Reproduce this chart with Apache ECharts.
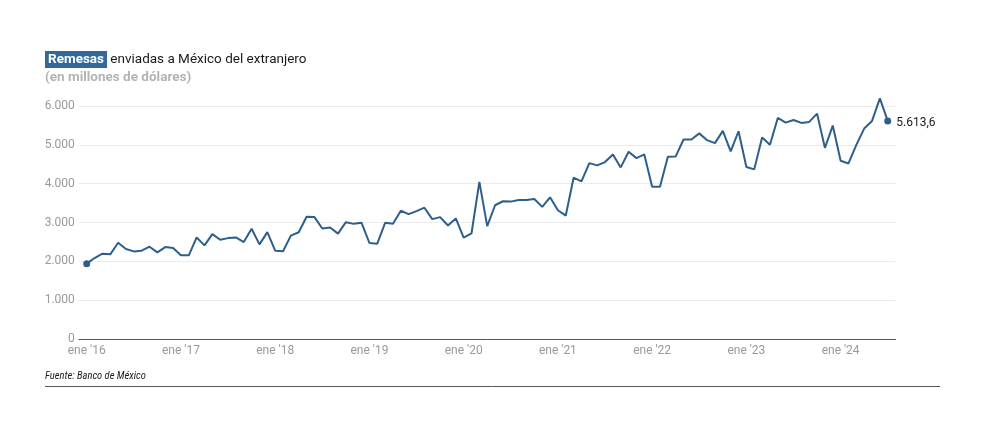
<!DOCTYPE html>
<html>
<head>
<meta charset="utf-8">
<script src="https://cdn.jsdelivr.net/npm/echarts@6/dist/echarts.min.js"></script>
<style>
html,body{margin:0;padding:0;background:#fff;}
#chart{width:1000px;height:427px;}
</style>
</head>
<body>
<div id="chart"></div>
<script>
// Monthly remittances to Mexico, Jan 2016 – Jul 2024 (millions of USD)
const startYear = 2016;
const remesas = [
  1940, 2085, 2197, 2180, 2479, 2316, 2256, 2273, 2376, 2230, 2367, 2342,
  2154, 2154, 2615, 2410, 2700, 2556, 2598, 2615, 2496, 2838, 2436, 2752,
  2273, 2258, 2662, 2749, 3147, 3139, 2844, 2870, 2714, 3009, 2965, 2991,
  2472, 2455, 2991, 2965, 3303, 3216, 3294, 3381, 3087, 3139, 2922, 3104,
  2610, 2723, 4048, 2905, 3444, 3547, 3538, 3581, 3581, 3607, 3402, 3650,
  3316, 3179, 4154, 4060, 4530, 4470, 4556, 4752, 4419, 4820, 4658, 4752,
  3923, 3923, 4692, 4701, 5137, 5137, 5295, 5120, 5043, 5359, 4829, 5350,
  4427, 4368, 5188, 5000, 5692, 5573, 5641, 5564, 5590, 5803, 4923, 5496,
  4590, 4521, 5000, 5419, 5615, 6197, 5613.6
];
const tickLabels = ["ene '16","ene '17","ene '18","ene '19","ene '20","ene '21","ene '22","ene '23","ene '24"];
const yTicks = [0, 1000, 2000, 3000, 4000, 5000, 6000];
const lastLabel = "5.613,6";

const tickPositions = tickLabels.map((_, k) => k * 12);
const lineData = remesas.map((v, i) => [i, v]);
const lastIdx = remesas.length - 1;
const endPoints = [
  {value: [0, remesas[0]]},
  {value: [lastIdx, remesas[lastIdx]], label: {show: true, formatter: lastLabel}}
];

function thousands(v){ return String(v).replace(/\B(?=(\d{3})+(?!\d))/g, '.'); }

const FONT = 'Roboto, "Liberation Sans", sans-serif';
const chart = echarts.init(document.getElementById('chart'), null, {renderer: 'canvas'});
chart.setOption({
  animation: false,
  backgroundColor: '#fff',
  title: {
    left: 45,
    top: 51,
    padding: 0,
    itemGap: 3,
    text: '{a|Remesas}{b| enviadas a México del extranjero}',
    textStyle: {
      fontWeight: 'normal',
      rich: {
        a: {color: '#fff', backgroundColor: '#33689a', fontWeight: 'bold', fontSize: 13.5, fontFamily: FONT, padding: [2, 3, 1, 3]},
        b: {color: '#1a1a1a', fontWeight: 'normal', fontSize: 13.5, fontFamily: FONT}
      }
    },
    subtext: '(en millones de dólares)',
    subtextStyle: {color: '#b3b3b3', fontWeight: 'bold', fontSize: 13.5, fontFamily: FONT}
  },
  grid: {left: 78.85, right: 104.4, top: 106, bottom: 88, containLabel: false},
  xAxis: {
    type: 'value',
    min: -1,
    max: lastIdx + 1,
    splitLine: {show: false},
    axisTick: {show: false},
    axisLine: {show: true, lineStyle: {color: '#555', width: 1}},
    axisLabel: {
      customValues: tickPositions,
      formatter: v => tickLabels[Math.round(v / 12)] || '',
      color: '#999', fontSize: 12, fontFamily: FONT, margin: 6
    }
  },
  yAxis: {
    type: 'value',
    min: 0, max: 6000, interval: 1000,
    axisLine: {show: false},
    axisTick: {show: false},
    splitLine: {lineStyle: {color: '#ebebeb', width: 1}},
    axisLabel: {
      customValues: yTicks,
      formatter: v => thousands(v),
      color: '#999', fontSize: 12, fontFamily: FONT, margin: 4
    }
  },
  series: [
    {
      type: 'line',
      data: lineData,
      clip: false,
      showSymbol: false,
      lineStyle: {color: '#2d5f8d', width: 2},
      z: 3
    },
    {
      type: 'scatter',
      data: endPoints,
      clip: false,
      symbol: 'circle',
      symbolSize: 7,
      itemStyle: {color: '#2d5f8d', opacity: 1},
      label: {show: false, position: 'right', distance: 5, offset: [0, 2], color: '#1a1a1a', fontSize: 12, fontFamily: FONT},
      z: 4
    }
  ],
  graphic: [
    {
      type: 'text', left: 45, top: 371,
      style: {text: 'Fuente: Banco de México', fill: '#1a1a1a', font: 'italic 10.5px "Liberation Sans Narrow", "Roboto Condensed", sans-serif'}
    },
    {
      type: 'line', shape: {x1: 45, y1: 386.5, x2: 940, y2: 386.5},
      style: {stroke: '#555', lineWidth: 1}
    }
  ]
});
</script>
</body>
</html>
